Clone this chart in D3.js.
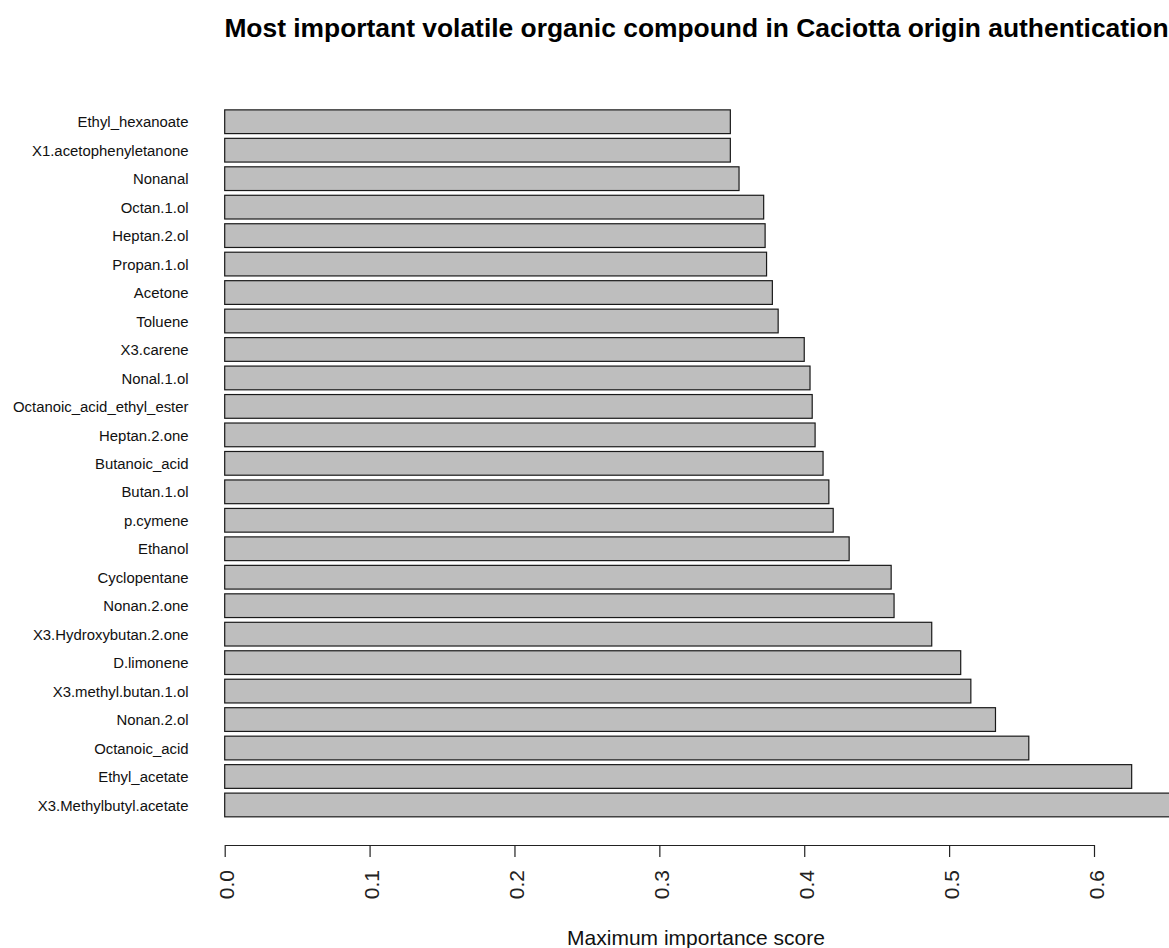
<!DOCTYPE html>
<html>
<head>
<meta charset="utf-8">
<script src="https://cdn.jsdelivr.net/npm/d3@7"></script>
<style>
  body { margin: 0; background: white; }
  text { font-family: "Liberation Sans", Arial, sans-serif; }
</style>
</head>
<body>
<div id="vip-bar-container"></div>
<script>
// compounds, top to bottom as in the plot
var compounds = [
  'Ethyl_hexanoate', 'X1.acetophenyletanone', 'Nonanal', 'Octan.1.ol',
  'Heptan.2.ol', 'Propan.1.ol', 'Acetone', 'Toluene', 'X3.carene',
  'Nonal.1.ol', 'Octanoic_acid_ethyl_ester', 'Heptan.2.one', 'Butanoic_acid',
  'Butan.1.ol', 'p.cymene', 'Ethanol', 'Cyclopentane', 'Nonan.2.one',
  'X3.Hydroxybutan.2.one', 'D.limonene', 'X3.methyl.butan.1.ol', 'Nonan.2.ol',
  'Octanoic_acid', 'Ethyl_acetate', 'X3.Methylbutyl.acetate'
];

var scores = [
  0.349, 0.349, 0.355, 0.372,
  0.373, 0.374, 0.378, 0.382, 0.400,
  0.404, 0.4055, 0.4075, 0.413,
  0.417, 0.420, 0.431, 0.460, 0.462,
  0.488, 0.508, 0.515, 0.532,
  0.555, 0.626, 0.670
];

var xTicks = [0, 0.1, 0.2, 0.3, 0.4, 0.5, 0.6];

var titleText = 'Most important volatile organic compound in Caciotta origin authentication';
var xLabel = 'Maximum importance score';

var dataArr = compounds.map(function(name, i) {
  return { name: name, score: scores[i] };
});

drawChart();

function drawChart() {
  const width = 1169;
  const height = 948;

  const svg = d3.select('#vip-bar-container')
    .append('svg')
    .attr('width', width)
    .attr('height', height)
    .style('display', 'block')
    .style('background', 'white');

  // scales
  const xScale = d3.scaleLinear()
    .domain([0, 0.6])
    .range([224.7, 1094]);

  const yScale = d3.scaleBand()
    .domain(compounds)
    .range([107.5, 819.2])
    .paddingInner(1 / 6)
    .paddingOuter(1 / 12);

  // bars
  svg.append('g')
    .selectAll('.bar')
    .data(dataArr)
    .enter()
    .append('rect')
      .attr('class', 'bar')
      .attr('x', xScale(0))
      .attr('y', d => yScale(d.name))
      .attr('width', d => xScale(d.score) - xScale(0))
      .attr('height', yScale.bandwidth())
      .attr('fill', '#bebebe')
      .attr('stroke', '#1a1a1a')
      .attr('stroke-width', 1.2);

  // category labels
  svg.append('g')
    .selectAll('text')
    .data(compounds)
    .enter()
    .append('text')
      .attr('x', 188.5)
      .attr('y', d => yScale(d) + yScale.bandwidth() / 2)
      .attr('dy', '0.38em')
      .attr('text-anchor', 'end')
      .style('font-size', '14.9px')
      .style('fill', '#111')
      .text(d => d);

  // x axis, R style with rotated labels
  const xAxis = d3.axisBottom(xScale)
    .tickValues(xTicks)
    .tickFormat(d3.format('.1f'))
    .tickSize(12)
    .tickSizeOuter(0);

  const gx = svg.append('g')
    .attr('transform', 'translate(0,845)')
    .call(xAxis);

  gx.select('.domain')
    .attr('stroke', '#222')
    .attr('stroke-width', 1.2);

  gx.selectAll('.tick line')
    .attr('stroke', '#222')
    .attr('stroke-width', 1.2);

  gx.selectAll('.tick text')
    .attr('transform', 'rotate(-90)')
    .attr('x', -25)
    .attr('y', 0)
    .attr('dy', '0.44em')
    .attr('text-anchor', 'end')
    .style('font-family', '"Liberation Sans", Arial, sans-serif')
    .style('font-size', '21px')
    .style('fill', '#222');

  // title
  svg.append('text')
    .attr('x', 696.5)
    .attr('y', 37)
    .attr('text-anchor', 'middle')
    .style('font-weight', 'bold')
    .style('font-size', '26.4px')
    .style('fill', '#000')
    .text(titleText);

  // x label
  svg.append('text')
    .attr('x', 696)
    .attr('y', 945)
    .attr('text-anchor', 'middle')
    .style('font-size', '21px')
    .style('fill', '#111')
    .text(xLabel);
}
</script>
</body>
</html>
